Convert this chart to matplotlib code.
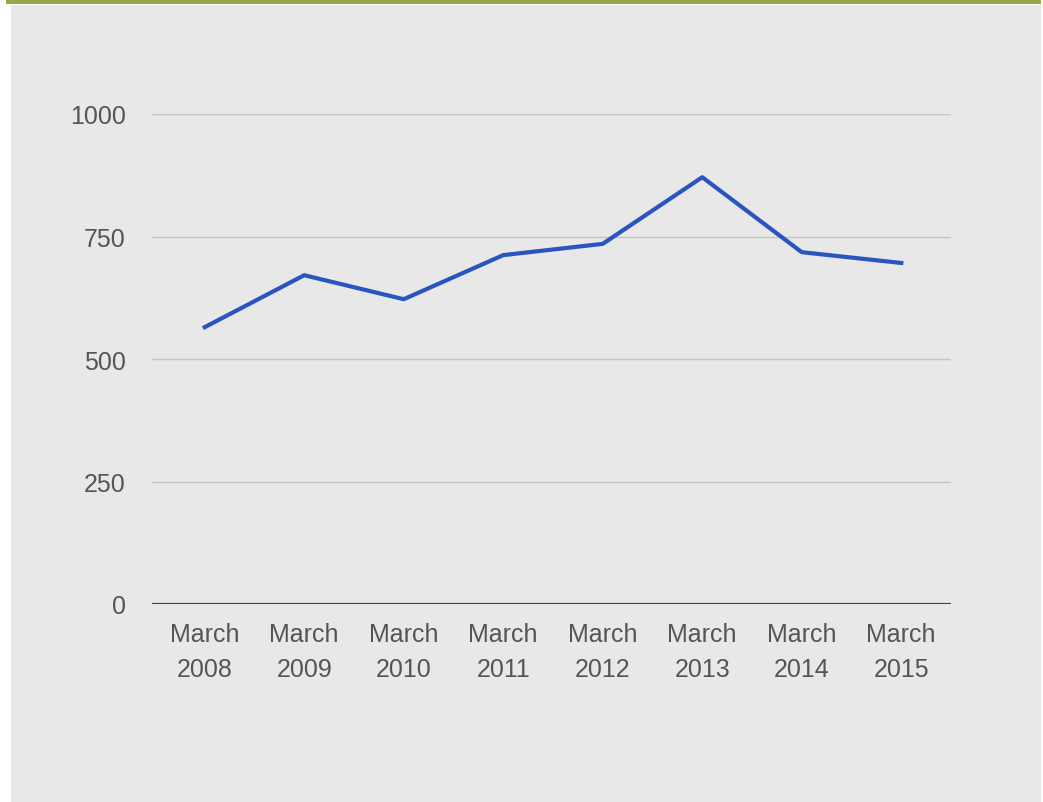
import matplotlib
matplotlib.use("Agg")
import matplotlib.pyplot as plt
from matplotlib.patches import Rectangle

categories = ["March\n2008", "March\n2009", "March\n2010", "March\n2011",
              "March\n2012", "March\n2013", "March\n2014", "March\n2015"]
values = [565, 671, 622, 712, 735, 871, 718, 696]
yticks = [0, 250, 500, 750, 1000]

W, H = 1043, 803
fig = plt.figure(figsize=(W / 100, H / 100), dpi=100)
fig.patch.set_facecolor("white")

# gray panel and green top bar
fig.add_artist(Rectangle((11 / W, 0), (1041 - 11) / W, (H - 6) / H,
                         transform=fig.transFigure, facecolor="#e8e8e8",
                         edgecolor="none", zorder=0))
fig.add_artist(Rectangle((6 / W, (H - 4.5) / H), (1041 - 6) / W, 4.5 / H,
                         transform=fig.transFigure, facecolor="#9aa64e",
                         edgecolor="none", zorder=0))

ax = fig.add_axes([152 / W, 1 - 605 / H, (951 - 152) / W, (605 - 115) / H])
ax.set_facecolor("none")
x = list(range(len(values)))
ax.plot(x, values, color="#2a54bf", linewidth=3.0, solid_joinstyle="round", zorder=3)
ax.set_xlim(-0.53, 7.5)
ax.set_ylim(0, 1000)
ax.set_yticks(yticks)
ax.set_yticklabels([str(v) for v in yticks])
ax.set_xticks(x)
ax.set_xticklabels(categories, linespacing=1.55)
for v in yticks[1:]:
    ax.axhline(v, color="#c4c4c4", linewidth=1.0, zorder=1)
ax.axhline(0, color="#444444", linewidth=1.6, zorder=2)
for s in ax.spines.values():
    s.set_visible(False)
ax.tick_params(axis="both", length=0, labelcolor="#555555", labelsize=18)
ax.tick_params(axis="y", pad=19)
ax.tick_params(axis="x", pad=13)
for lab in ax.get_yticklabels() + ax.get_xticklabels():
    lab.set_fontfamily("Liberation Sans")

fig.savefig("out.png", dpi=100, facecolor="white")
